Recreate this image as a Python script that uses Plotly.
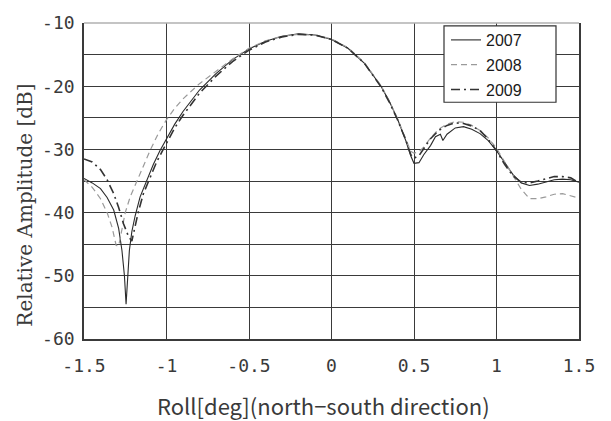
import plotly.graph_objects as go

# ---- data ----
x_2007 = [-1.5, -1.45, -1.4, -1.36, -1.32, -1.29, -1.27, -1.255, -1.245, -1.235, -1.225, -1.21, -1.19, -1.16, -1.12,
          -1.08, -1.04, -1.0, -0.95, -0.9, -0.8, -0.7, -0.6, -0.5, -0.4, -0.3, -0.2, -0.1, 0.0, 0.1, 0.2, 0.3, 0.35,
          0.4, 0.45, 0.48, 0.5, 0.53, 0.56, 0.6, 0.63, 0.66, 0.675, 0.7, 0.75, 0.8, 0.85, 0.9, 0.95, 1.0, 1.05, 1.1,
          1.15, 1.2, 1.25, 1.3, 1.35, 1.4, 1.45, 1.5]
y_2007 = [-34.6, -35.3, -36.2, -37.6, -39.6, -42.5, -46, -50, -54.5, -50, -46, -43, -40.5, -37.5, -34.8,
          -32.4, -30.2, -28.3, -26, -24, -20.6, -18, -15.8, -14.1, -12.9, -12.1, -11.7, -11.9, -12.6, -14.0, -16.4, -20, -22.4,
          -25.2, -28.6, -31, -32.2, -32.1, -30.8, -29.4, -28.0, -27.6, -28.6, -27.6, -26.6, -26.4, -26.8, -27.5, -28.6, -30.2, -32.2, -34,
          -35.3, -35.7, -35.5, -35.1, -34.8, -34.7, -34.8, -35.2]

x_2008 = [-1.5, -1.45, -1.4, -1.36, -1.33, -1.305, -1.29, -1.27, -1.25, -1.22, -1.18, -1.14, -1.1, -1.05, -1.0,
          -0.95, -0.9, -0.8, -0.7, -0.6, -0.5, -0.4, -0.3, -0.2, -0.1, 0.0, 0.1, 0.2, 0.3, 0.35, 0.4, 0.45, 0.48,
          0.5, 0.53, 0.56, 0.6, 0.65, 0.7, 0.75, 0.8, 0.85, 0.9, 0.95, 1.0, 1.05, 1.1, 1.15, 1.2, 1.25, 1.3, 1.35,
          1.4, 1.45, 1.5]
y_2008 = [-34.8, -36, -37.8, -40, -42.3, -45.2, -45.3, -42.5, -40, -37.5, -35, -32.5, -30.2, -27.5, -25.3,
          -23.5, -22, -19.6, -17.6, -15.7, -14.0, -12.8, -12.1, -11.8, -11.9, -12.5, -13.9, -16.3, -19.9, -22.3, -25.1, -28.3, -30.3,
          -30.6, -30.4, -29.6, -28.2, -26.8, -26.0, -25.6, -25.7, -26.2, -27, -28.2, -29.8, -32, -34.2, -36.3, -37.8, -37.8, -37.5, -37.1,
          -37.0, -37.3, -37.7]

x_2009 = [-1.5, -1.45, -1.4, -1.36, -1.32, -1.29, -1.26, -1.23, -1.21, -1.19, -1.17, -1.14, -1.1, -1.06, -1.02,
          -1.0, -0.95, -0.9, -0.8, -0.7, -0.6, -0.5, -0.4, -0.3, -0.2, -0.1, 0.0, 0.1, 0.2, 0.3, 0.35, 0.4, 0.45,
          0.48, 0.5, 0.53, 0.56, 0.6, 0.65, 0.7, 0.75, 0.8, 0.85, 0.9, 0.95, 1.0, 1.05, 1.1, 1.15, 1.2, 1.25, 1.3,
          1.35, 1.4, 1.45, 1.5]
y_2009 = [-31.5, -32, -33.2, -34.8, -37, -39.2, -41.8, -43.8, -44.5, -42.2, -39.8, -37, -34.4, -32, -30,
          -29.0, -26.6, -24.6, -21.1, -18.4, -16.1, -14.3, -13.0, -12.2, -11.8, -11.9, -12.6, -14.0, -16.4, -20.1, -22.5, -25.3, -28.5,
          -30.8, -31.4, -31, -29.8, -28.3, -27, -26.2, -25.8, -25.9, -26.3, -27.0, -28.4, -30.2, -32.4, -34.2, -35.2, -35.3, -35.0, -34.7,
          -34.3, -34.3, -34.5, -35.3]

x_tickvals = [-1.5, -1.0, -0.5, 0.0, 0.5, 1.0, 1.5]
x_ticktext = ["-1.5", "-1", "-0.5", "0", "0.5", "1", "1.5"]
y_tickvals = [-60, -55, -50, -45, -40, -35, -30, -25, -20, -15, -10]
y_ticktext = ["-60", "", "-50", "", "-40", "", "-30", "", "-20", "", "-10"]

series_names = ["2007", "2008", "2009"]
x_title = "Roll[deg](north−south direction)"
y_title = "Relative Amplitude [dB]"

# ---- figure ----
fig = go.Figure()
fig.add_trace(go.Scatter(x=x_2007, y=y_2007, mode="lines", name=series_names[0], legendgroup="a",
                         line=dict(color="#2a2a2a", width=1.1, dash="solid")))
fig.add_trace(go.Scatter(x=x_2008, y=y_2008, mode="lines", name=series_names[1], legendgroup="b",
                         line=dict(color="#9a9a9a", width=1.2, dash="6px,4px")))
fig.add_trace(go.Scatter(x=x_2009, y=y_2009, mode="lines", name=series_names[2], legendgroup="c",
                         line=dict(color="#333333", width=1.6, dash="9px,4px,2px,4px")))

tick_font = dict(family="DejaVu Sans Mono", size=18, color="#3a3a3a")

PW, PH, L, T = 495, 327, 84, 12  # plot area size / offsets in px


def px_x(px):
    return (px - L) / PW


def px_y(py):
    return 1 - (py - T) / PH


fig.update_layout(
    width=611, height=421,
    margin=dict(l=84, r=32, t=12, b=82),
    paper_bgcolor="white", plot_bgcolor="white",
    showlegend=True,
    legend=dict(x=px_x(446), y=1.0, xanchor="left", yanchor="top",
                bgcolor="rgba(0,0,0,0)", borderwidth=0,
                font=dict(family="Liberation Sans", size=16, color="#1a1a1a"),
                tracegroupgap=1, itemwidth=30),
    xaxis=dict(range=[-1.5, 1.5], tickvals=x_tickvals, ticktext=x_ticktext,
               showgrid=True, gridcolor="#3a3a3a", gridwidth=1.4, zeroline=False,
               showline=True, linecolor="#3a3a3a", linewidth=1.6, mirror=False,
               ticks="", tickfont=tick_font, ticklabelstandoff=10),
    yaxis=dict(range=[-60, -10], tickvals=y_tickvals, ticktext=y_ticktext,
               showgrid=True, gridcolor="#3a3a3a", gridwidth=1.4, zeroline=False,
               showline=True, linecolor="#3a3a3a", linewidth=1.6, mirror=True,
               ticks="", tickfont=tick_font, ticklabelstandoff=4),
    annotations=[
        dict(text=y_title, textangle=-90, xref="paper", yref="paper",
             x=px_x(25), y=px_y(201), xanchor="center", yanchor="middle", showarrow=False,
             font=dict(family="DejaVu Serif", size=20, color="#3a3a3a")),
        dict(text=x_title, xref="paper", yref="paper",
             x=px_x(323), y=px_y(407), xanchor="center", yanchor="middle", showarrow=False,
             font=dict(family="Noto Sans CJK JP", size=22, color="#3a3a3a")),
    ],
    shapes=[
        dict(type="line", xref="paper", yref="paper", x0=0, x1=1, y0=1, y1=1,
             line=dict(color="#b0b0b0", width=1.6), layer="above"),
        dict(type="rect", xref="paper", yref="paper", x0=px_x(444), x1=px_x(556),
             y0=px_y(94), y1=px_y(15), fillcolor="white",
             line=dict(color="#333333", width=1.2), layer="above"),
    ],
)

fig.write_html("out.html")
